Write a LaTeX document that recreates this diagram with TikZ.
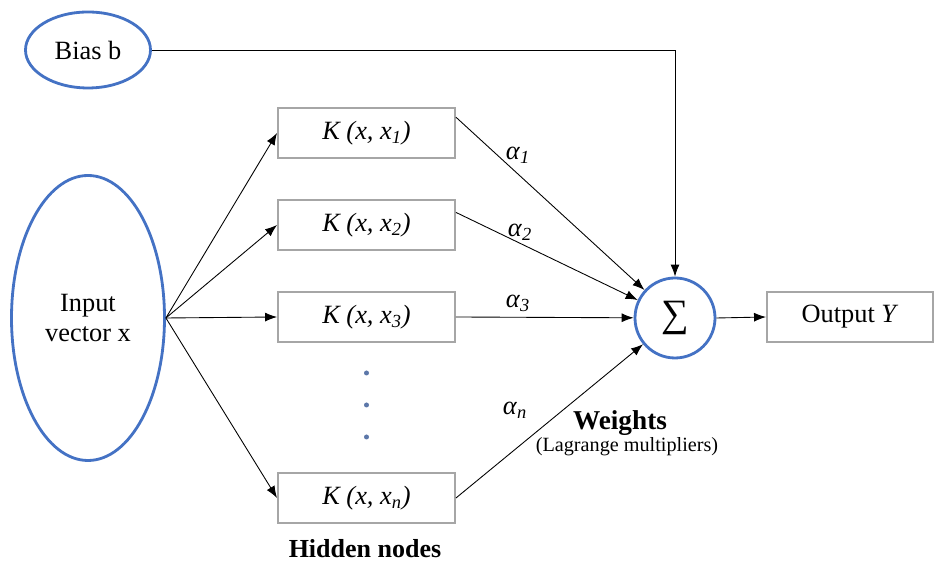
\documentclass[tikz,border=0pt]{standalone}
\usepackage{fontspec}
\setmainfont{Liberation Serif}
\usetikzlibrary{arrows.meta,shapes.geometric}
\definecolor{blueline}{HTML}{4472C4}
\definecolor{greyline}{HTML}{A6A6A6}
\newcommand{\kfun}[1]{\textit{K (x, x\textsubscript{#1})}}
\newcommand{\wlab}[1]{\textit{α}\textsubscript{\textit{#1}}}
\tikzset{
  blob/.style={ellipse,draw=blueline,line width=1.6pt,align=center,inner sep=0pt},
  kbox/.style={draw=greyline,line width=1.1pt,minimum width=3.54cm,minimum height=1cm,inner sep=0pt},
  arr/.style={-{Latex[length=2.4mm,width=1.8mm]},line width=0.5pt}
}

\begin{document}
\begin{tikzpicture}[font=\fontsize{15}{17}\selectfont]
\useasboundingbox (0,0) rectangle (18.68,11.3);
\node[blob,minimum width=2.5cm,minimum height=1.52cm] (bias) at (1.76,10.3) {Bias b};
\node[blob,minimum width=3.06cm,minimum height=5.7cm] (in) at (1.76,4.94) {Input\\vector x};
\foreach \n/\y/\sub in {k1/8.64/1,k2/6.8/2,k3/4.96/3,kn/1.34/n} \node[kbox] (\n) at (7.33,\y) {\kfun{\sub}};
\node[circle,draw=blueline,line width=1.6pt,minimum size=1.6cm,inner sep=0pt,font=\fontsize{22}{24}\selectfont] (sum) at (13.5,4.94) {∑};
\node[kbox,minimum width=3.32cm] (out) at (17,4.96) {Output \textit{Y}};
% dots between the hidden nodes
\foreach \y in {3.84,3.2,2.56} \fill[blueline!60!gray] (7.33,\y) circle (0.05);
% connectors
\foreach \n in {k1,k2,k3,kn} \draw[arr] (in.east) -- (\n.west);
\draw[arr] (k1.10) -- (sum); \draw[arr] (k2.8) -- (sum);
\draw[arr] (k3.east) -- (sum); \draw[arr] (kn.east) -- (sum);
\draw[arr] (bias.east) -| (sum.north);
\draw[arr] (sum.east) -- (out.west);
% labels
\node (a1) at (10.36,8.2) {\wlab{1}}; \node (a2) at (10.4,6.66) {\wlab{2}};
\node (a3) at (10.36,5.24) {\wlab{3}}; \node (an) at (10.3,3.1) {\wlab{n}};
\node[font=\fontsize{15.5}{18}\selectfont\bfseries] (wt) at (12.4,2.84) {Weights};
\node[font=\fontsize{11.5}{13}\selectfont] (lm) at (12.54,2.36) {(Lagrange multipliers)};
\node[font=\fontsize{14.8}{17}\selectfont\bfseries] (hn) at (7.3,0.32) {Hidden nodes};
\end{tikzpicture}
\end{document}
